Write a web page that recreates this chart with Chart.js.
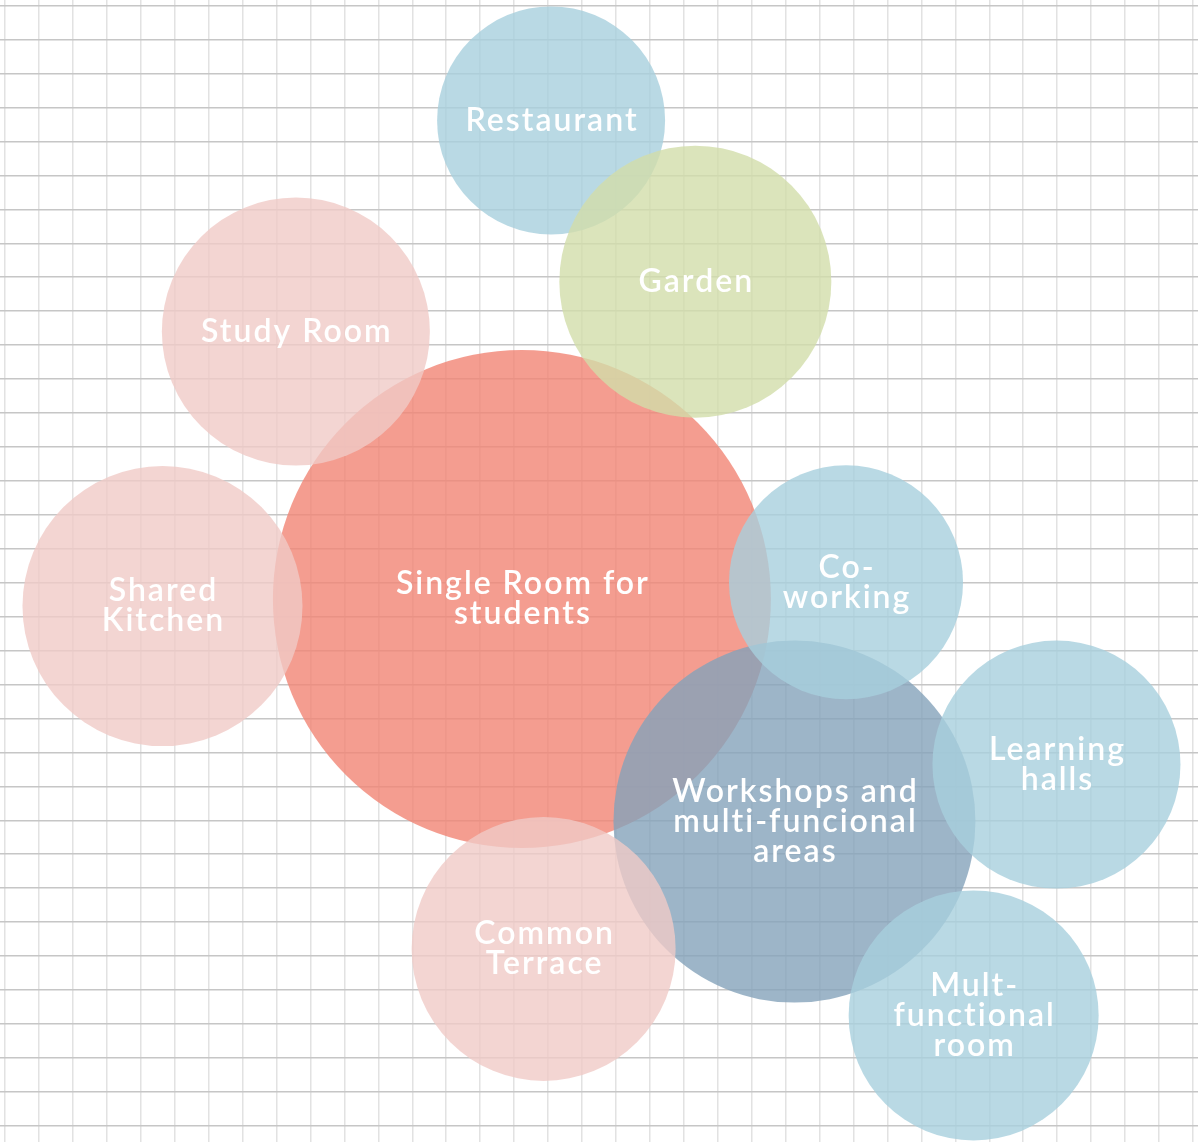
<!DOCTYPE html>
<html>
<head>
<meta charset="utf-8">
<script src="https://cdn.jsdelivr.net/npm/chart.js@4"></script>
<style>
  html, body { margin: 0; padding: 0; background: #fff; }
  #wrap { width: 1198px; height: 1142px; position: relative; }
</style>
</head>
<body>
<div id="wrap"><canvas id="bubbles"></canvas></div>
<script>
    // Espaces (ordre = ordre de dessin, le dernier passe au-dessus)
    const spaceLabels = [
        ['Restaurant'],
        ['Single Room for', 'students'],
        ['Workshops and', 'multi-funcional', 'areas'],
        ['Garden'],
        ['Study Room'],
        ['Shared', 'Kitchen'],
        ['Co-', 'working'],
        ['Learning', 'halls'],
        ['Common', 'Terrace'],
        ['Mult-', 'functional', 'room']
    ];
    // position sur la grille (en cases)
    const posX = [16.09, 15.23, 23.26, 20.34, 8.57, 4.64, 24.78, 30.98, 15.87, 28.54];
    const posY = [3.38, 17.48, 24.04, 8.13, 9.60, 17.69, 16.99, 22.36, 27.79, 29.75];
    // rayon des bulles
    const radius = [114, 249, 181, 136, 134, 140, 117, 124, 132, 125];
    // famille de couleur de chaque espace
    const family = ['blue', 'salmon', 'slate', 'green', 'pink', 'pink', 'blue', 'blue', 'pink', 'blue'];

    const palette = {
        blue: 'rgba(168, 208, 221, 0.8)',
        salmon: 'rgba(241, 132, 116, 0.8)',
        slate: 'rgba(132, 162, 186, 0.8)',
        green: 'rgba(210, 221, 170, 0.8)',
        pink: 'rgba(240, 202, 199, 0.8)'
    };

    const points = posX.map((x, i) => ({ x: x, y: posY[i], r: radius[i] }));

    // Texte blanc au centre de chaque bulle
    const bubbleText = {
        id: 'bubbleText',
        afterDatasetsDraw(chart) {
            const ctx = chart.ctx;
            const meta = chart.getDatasetMeta(0);
            ctx.save();
            ctx.fillStyle = '#ffffff';
            ctx.font = '600 32px Lato';
            ctx.letterSpacing = '2px';
            ctx.textAlign = 'center';
            ctx.textBaseline = 'middle';
            meta.data.forEach((el, i) => {
                const lines = spaceLabels[i];
                const lh = 30;
                const top = el.y - (lines.length - 1) * lh / 2;
                lines.forEach((line, k) => {
                    ctx.fillText(line, el.x + 1, top + k * lh);
                });
            });
            ctx.restore();
        }
    };

    const cell = 33.94;
    const chartCanvas = document.getElementById('bubbles');
    const myChart = new Chart(chartCanvas, {
        type: 'bubble',
        data: {
            datasets: [{
                data: points,
                backgroundColor: family.map(f => palette[f]),
                borderWidth: 0,
                hoverBorderWidth: 0,
                clip: false
            }]
        },
        options: {
            responsive: true,
            maintainAspectRatio: false,
            animation: false,
            events: [],
            layout: { padding: 0, autoPadding: false },
            plugins: {
                legend: { display: false },
                tooltip: { enabled: false }
            },
            scales: {
                x: {
                    type: 'linear',
                    min: -5 / cell,
                    max: (1198 - 5) / cell,
                    border: { display: false },
                    grid: { color: '#e2e2e2', lineWidth: 1.5, drawTicks: false },
                    ticks: { display: false, stepSize: 1, includeBounds: false }
                },
                y: {
                    type: 'linear',
                    reverse: true,
                    min: -5.7 / cell,
                    max: (1142 - 5.7) / cell,
                    border: { display: false },
                    grid: { color: '#c6c6c6', lineWidth: 1.5, drawTicks: false },
                    ticks: { display: false, stepSize: 1, includeBounds: false }
                }
            }
        },
        plugins: [bubbleText]
    });
</script>
</body>
</html>
